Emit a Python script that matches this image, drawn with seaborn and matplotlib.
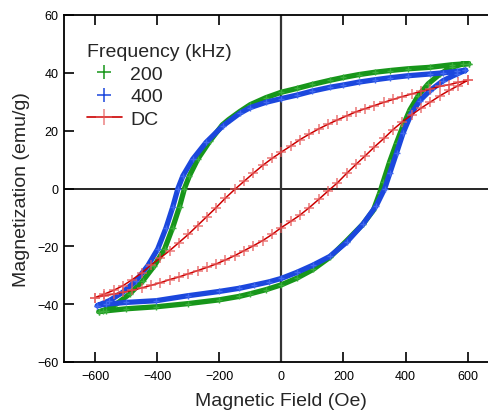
import matplotlib
matplotlib.use("Agg")
import matplotlib.pyplot as plt
import seaborn as sns
import pandas as pd
from matplotlib.lines import Line2D

# ---------------- data ----------------
# 200 kHz loop: upper branch (field decreasing) then lower branch (field increasing)
f200_up_H = [603, 550, 478, 408, 350, 301, 250, 200, 156, 100, 50, 0, -50, -100, -134, -170,
             -190, -231, -269, -296, -312, -328, -350, -376, -409, -446, -489, -532, -575,
             -588]
f200_up_M = [43.2, 42.8, 41.9, 41.4, 40.8, 40.2, 39.4, 38.4, 37.4, 36.0, 34.6, 33.3, 31.4,
             29.0, 26.6, 23.8, 22.0, 16.3, 10.2, 4.4, 0.0, -6.3, -13.5, -20.9, -26.7, -31.9,
             -36.5, -40.0, -42.3, -42.6]
f200_lo_H = [-588, -565, -500, -403, -300, -200, -135, -100, -50, 0, 50, 102, 156, 210, 263,
             296, 317, 328, 349, 371, 392, 414, 441, 473, 511, 548, 586, 603]
f200_lo_M = [-42.6, -42.3, -41.6, -40.9, -39.8, -38.5, -37.3, -36.4, -35.0, -33.3, -31.0,
             -28.0, -23.8, -18.1, -12.3, -7.6, -1.5, 2.3, 9.3, 15.8, 21.7, 27.2, 32.1, 36.2,
             39.6, 41.9, 43.1, 43.2]

# 400 kHz loop
f400_up_H = [593, 565, 521, 478, 408, 350, 301, 250, 200, 156, 100, 50, 0, -50, -100, -134,
             -188, -242, -285, -317, -333, -350, -371, -398, -430, -468, -511, -554, -593]
f400_up_M = [40.9, 40.5, 40.0, 39.6, 39.0, 38.3, 37.6, 36.8, 35.8, 35.0, 33.7, 32.3, 31.1,
             29.8, 28.0, 26.0, 21.7, 16.0, 10.2, 4.4, 0.0, -6.5, -13.5, -20.9, -26.7, -31.9,
             -35.9, -38.8, -40.5]
f400_lo_H = [-593, -565, -500, -403, -302, -200, -135, -87, -40, 0, 50, 102, 156, 210, 263,
             306, 333, 349, 371, 392, 419, 446, 478, 521, 565, 593]
f400_lo_M = [-40.5, -40.0, -39.4, -38.8, -37.1, -35.6, -34.5, -33.4, -32.3, -31.1, -29.0,
             -26.5, -23.5, -18.6, -12.3, -5.9, 0.0, 5.2, 12.3, 19.2, 26.0, 30.4, 33.8, 37.3,
             39.6, 40.9]

# DC loop
dc_up_H = [600, 570, 540, 510, 480, 450, 420, 390, 360, 330, 300, 270, 240, 210, 180, 150,
           120, 90, 60, 30, 0, -30, -60, -90, -120, -150, -180, -210, -240, -270, -300, -330,
           -360, -390, -420, -450, -480, -510, -540, -570, -600]
dc_up_M = [37.4, 36.7, 35.9, 35.3, 34.4, 33.6, 32.7, 31.8, 30.8, 29.8, 28.7, 27.6, 26.5,
           25.1, 23.7, 22.2, 20.6, 18.8, 16.9, 14.7, 12.6, 10.4, 8.0, 5.3, 2.5, -0.3, -3.3,
           -6.6, -9.7, -12.8, -15.9, -18.7, -21.5, -24.0, -26.5, -29.2, -31.5, -33.6, -35.2,
           -36.5, -37.7]
dc_lo_H = [-600, -570, -540, -510, -480, -450, -420, -390, -360, -330, -300, -270, -240, -210,
           -180, -150, -120, -90, -60, -30, 0, 30, 60, 90, 120, 150, 180, 210, 240, 270, 300,
           330, 360, 390, 420, 450, 480, 510, 540, 570, 600]
dc_lo_M = [-37.7, -37.1, -36.5, -35.9, -35.2, -34.4, -33.5, -32.6, -31.5, -30.6, -29.5, -28.4,
           -27.3, -26.1, -24.7, -23.2, -21.5, -19.8, -18.0, -15.9, -13.5, -11.4, -9.2, -6.6,
           -3.8, -0.9, 1.9, 5.2, 8.3, 11.3, 14.4, 17.3, 20.4, 23.1, 25.5, 27.8, 29.9, 32.0,
           33.9, 35.6, 37.4]

series_labels = ["200", "400", "DC"]
x_ticks = [-600, -400, -200, 0, 200, 400, 600]
y_ticks = [-60, -40, -20, 0, 20, 40, 60]

# ---------------- style ----------------
sns.set_style("ticks")
plt.rcParams["font.family"] = ["Liberation Sans", "DejaVu Sans"]

GREEN = "#17961a"
GREEN_M = "#3aae3a"
BLUE = "#1b47dd"
BLUE_M = "#4068ee"
RED = "#cc0000"
RED_M = (0.9, 0.35, 0.35, 0.75)


def loop(h_up, m_up, h_lo, m_lo):
    return pd.DataFrame({"H": list(h_up) + list(h_lo), "M": list(m_up) + list(m_lo)})


fig = plt.figure(figsize=(4.89, 4.14), dpi=100)
ax = fig.add_axes([64 / 489, 51 / 414, 434.7 / 489, 347 / 414])

ax.axhline(0, color="black", lw=1.2, zorder=1)
ax.axvline(0, color="#333333", lw=1.6, zorder=1)

common = dict(sort=False, estimator=None, ax=ax, legend=False,
              solid_joinstyle="round", solid_capstyle="round")
sns.lineplot(data=loop(f200_up_H, f200_up_M, f200_lo_H, f200_lo_M), x="H", y="M",
             color=GREEN, lw=3.8, marker="+", ms=4.5, mew=1.0, mec=GREEN_M, zorder=3,
             **common)
sns.lineplot(data=loop(f400_up_H, f400_up_M, f400_lo_H, f400_lo_M), x="H", y="M",
             color=BLUE, lw=3.8, marker="+", ms=4.5, mew=1.0, mec=BLUE_M, zorder=4,
             **common)
sns.lineplot(data=loop(dc_up_H, dc_up_M, dc_lo_H, dc_lo_M), x="H", y="M",
             color=RED, lw=1.1, marker="+", ms=7, mew=1.2, mec=RED_M, zorder=5, **common)

ax.set_xlim(-700, 700)
ax.set_ylim(-60, 60)
ax.set_xticks(x_ticks)
ax.set_yticks(y_ticks)
ax.set_xlabel("Magnetic Field (Oe)", fontsize=14, labelpad=7)
ax.set_ylabel("Magnetization (emu/g)", fontsize=14, labelpad=5)

ax.tick_params(direction="in", length=7, width=1.2, top=True, right=True,
               labelsize=9, colors="black")
ax.tick_params(axis="x", pad=6)
ax.tick_params(axis="y", pad=4)
for s in ax.spines.values():
    s.set_linewidth(1.3)
    s.set_color("black")

handles = [
    Line2D([], [], ls="none", marker="+", color=GREEN, ms=10, mew=1.1),
    Line2D([], [], ls="none", marker="+", color=BLUE, ms=10, mew=1.1),
    Line2D([], [], color=RED, lw=1.2, marker="+", ms=12, mew=1.1, mec=RED_M),
]
leg = ax.legend(handles, series_labels, title="Frequency (kHz)", loc="upper left",
                bbox_to_anchor=(0.052, 0.918), frameon=False, fontsize=14,
                title_fontsize=14, handlelength=1.8, handletextpad=0.45,
                labelspacing=0.25, borderpad=0, borderaxespad=0)
leg._legend_box.align = "left"

fig.savefig("out.png", dpi=100)
